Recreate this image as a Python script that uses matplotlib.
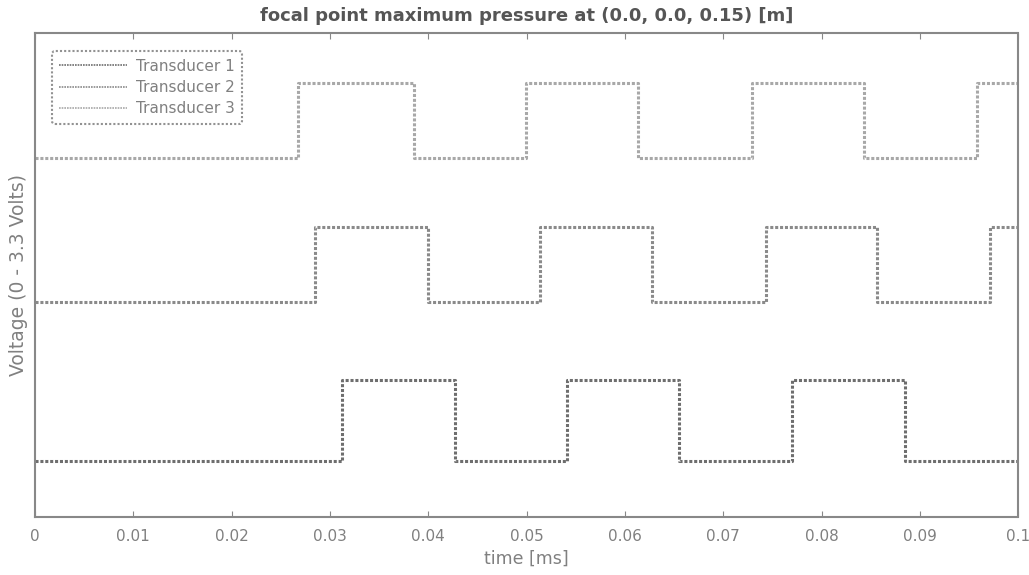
import matplotlib
matplotlib.use("Agg")
import matplotlib.pyplot as plt

# switching instants of each drive signal (ms); every signal starts low
edges_t1 = [0.0312, 0.0427, 0.0541, 0.0655, 0.0770, 0.0885]
edges_t2 = [0.0285, 0.0400, 0.0514, 0.0628, 0.0743, 0.0856, 0.0971]
edges_t3 = [0.0268, 0.0385, 0.0499, 0.0613, 0.0729, 0.0843, 0.0958]

# low / high level of each trace (traces are stacked with an offset)
levels_t1 = [0.0, 3.3]
levels_t2 = [6.5, 9.55]
levels_t3 = [12.4, 15.45]

labels = ["Transducer 1", "Transducer 2", "Transducer 3"]
xticks = [0, 0.01, 0.02, 0.03, 0.04, 0.05, 0.06, 0.07, 0.08, 0.09, 0.1]
xticklabels = ["0", "0.01", "0.02", "0.03", "0.04", "0.05", "0.06", "0.07", "0.08", "0.09", "0.1"]
t_end = 0.1


def square(edges, levels):
    xs = [0.0] + list(edges) + [t_end]
    ys = [levels[i % 2] for i in range(len(edges) + 1)]
    ys.append(ys[-1])
    return xs, ys


fig = plt.figure(figsize=(10.29, 5.75), dpi=100)
ax = fig.add_axes([0.034, 0.101, 0.9555, 0.8416])

colors = ["#6e6e6e", "#8a8a8a", "#a8a8a8"]
for edges, lv, lab, c in zip([edges_t1, edges_t2, edges_t3],
                             [levels_t1, levels_t2, levels_t3], labels, colors):
    x, y = square(edges, lv)
    ax.step(x, y, where="post", color=c, lw=2.2, ls=(0, (1, 0.6)), label=lab)

ax.set_xlim(0, 0.1)
ax.set_ylim(-2.3, 17.5)
ax.set_xticks(xticks)
ax.set_xticklabels(xticklabels, color="#808080", fontsize=11)
ax.set_yticks([])
ax.tick_params(axis="x", direction="in", top=True, length=4, color="#888888", pad=9)
for sp in ax.spines.values():
    sp.set_color("#888888")
    sp.set_linestyle((0, (1, 1)))
    sp.set_linewidth(1.5)

ax.set_title("focal point maximum pressure at (0.0, 0.0, 0.15) [m]",
             fontsize=13, fontweight="bold", color="#555555", pad=9)
ax.set_xlabel("time [ms]", color="#808080", fontsize=12.5, labelpad=4)
ax.set_ylabel("Voltage (0 - 3.3 Volts)", color="#808080", fontsize=13.5, labelpad=5)

leg = ax.legend(loc="upper left", bbox_to_anchor=(0.017, 0.963), borderaxespad=0,
                fontsize=11, handlelength=4.4, handletextpad=0.6,
                borderpad=0.5, labelspacing=0.42, fancybox=True)
leg.get_frame().set_edgecolor("#777777")
leg.get_frame().set_linestyle((0, (1, 1)))
leg.get_frame().set_linewidth(1.5)
for t in leg.get_texts():
    t.set_color("#808080")
for ln in leg.get_lines():
    ln.set_linewidth(1.2)

fig.savefig("out.png", dpi=100)
